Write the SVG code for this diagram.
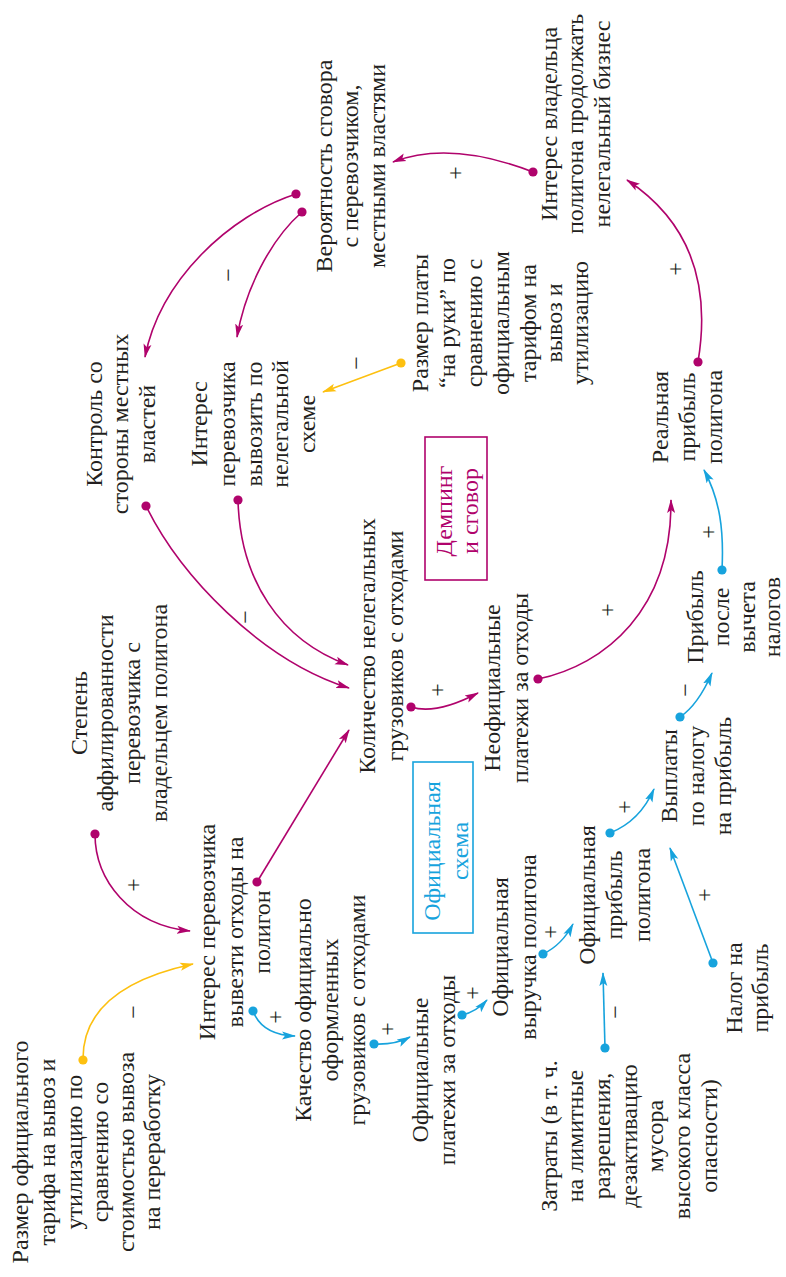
<svg xmlns="http://www.w3.org/2000/svg" width="786" height="1277" viewBox="0 0 786 1277">
  <style>
    .t { font-family: "Liberation Serif", "Times New Roman", serif; font-size: 24px; fill: #231f20; text-anchor: middle; }
    .tm { fill: #b0036c; }
    .tb { fill: #17a3dd; }
    .c { fill: none; stroke-width: 1.6; }
    .cm { stroke: #b0036c; marker-start: url(#dot-m); marker-end: url(#arr-m); }
    .cb { stroke: #17a3dd; marker-start: url(#dot-b); marker-end: url(#arr-b); }
    .cy { stroke: #fdc010; marker-start: url(#dot-y); marker-end: url(#arr-y); }
    .box { fill: none; stroke-width: 1.6; }
  </style>
  <defs>
    <marker id="arr-m" viewBox="0 0 14 10" refX="13" refY="5" markerWidth="14" markerHeight="10" markerUnits="userSpaceOnUse" orient="auto"><path d="M0,1 L14,5 L0,9 L3,5 z" fill="#b0036c"/></marker>
    <marker id="arr-b" viewBox="0 0 14 10" refX="13" refY="5" markerWidth="14" markerHeight="10" markerUnits="userSpaceOnUse" orient="auto"><path d="M0,1 L14,5 L0,9 L3,5 z" fill="#17a3dd"/></marker>
    <marker id="arr-y" viewBox="0 0 14 10" refX="13" refY="5" markerWidth="14" markerHeight="10" markerUnits="userSpaceOnUse" orient="auto"><path d="M0,1 L14,5 L0,9 L3,5 z" fill="#fdc010"/></marker>
    <marker id="dot-m" viewBox="-5 -5 10 10" refX="0" refY="0" markerWidth="10" markerHeight="10" markerUnits="userSpaceOnUse"><circle r="4.6" fill="#b0036c"/></marker>
    <marker id="dot-b" viewBox="-5 -5 10 10" refX="0" refY="0" markerWidth="10" markerHeight="10" markerUnits="userSpaceOnUse"><circle r="4.6" fill="#17a3dd"/></marker>
    <marker id="dot-y" viewBox="-5 -5 10 10" refX="0" refY="0" markerWidth="10" markerHeight="10" markerUnits="userSpaceOnUse"><circle r="4.6" fill="#fdc010"/></marker>
  </defs>

  <rect width="786" height="1277" fill="#ffffff"/>

  <!-- connectors -->
  <g id="connectors" class="c">
    <path class="c cy" d="M83,1060 Q82,988 193,964"/>
    <path class="c cm" d="M95,834 C95,880 130,925 190,931"/>
    <path class="c cm" d="M257,882 L349,730"/>
    <path class="c cm" d="M146,506 C180,575 260,660 349,688"/>
    <path class="c cm" d="M238,500 C240,580 280,640 348,665"/>
    <path class="c cm" d="M411,707 Q436,715 478,693"/>
    <path class="c cm" d="M538,679 C605,665 672,610 671,500"/>
    <path class="c cb" d="M722,570 C724,530 720,500 704,470"/>
    <path class="c cb" d="M680,717 Q698,705 712,673"/>
    <path class="c cb" d="M610,833 Q640,821 654,789"/>
    <path class="c cb" d="M713,963 L670,848"/>
    <path class="c cb" d="M605,1048 L603,973"/>
    <path class="c cb" d="M543,954 Q562,945 573,924"/>
    <path class="c cb" d="M462,1015 Q476,1012 487,1000"/>
    <path class="c cb" d="M374,1044 Q395,1045 410,1037"/>
    <path class="c cb" d="M253,1011 Q262,1035 295,1036"/>
    <path class="c cm" d="M296,194 C230,215 160,280 145,357"/>
    <path class="c cm" d="M302,212 C270,240 245,290 237,337"/>
    <path class="c cy" d="M401,363 L323,392"/>
    <path class="c cm" d="M533,172 Q450,140 393,162"/>
    <path class="c cm" d="M698,362 C710,290 695,225 627,180"/>
  </g>

  <!-- polarity signs -->
  <g id="signs" class="t">
    <text transform="translate(141,1012) rotate(-90)">−</text>
    <text transform="translate(141,885) rotate(-90)">+</text>
    <text transform="translate(253,617) rotate(-90)">−</text>
    <text transform="translate(236,275) rotate(-90)">−</text>
    <text transform="translate(364,363) rotate(-90)">−</text>
    <text transform="translate(463,173) rotate(-90)">+</text>
    <text transform="translate(683,269) rotate(-90)">+</text>
    <text transform="translate(445,690) rotate(-90)">+</text>
    <text transform="translate(615,610) rotate(-90)">+</text>
    <text transform="translate(716,532) rotate(-90)">+</text>
    <text transform="translate(693,690) rotate(-90)">−</text>
    <text transform="translate(632,807) rotate(-90)">+</text>
    <text transform="translate(712,895) rotate(-90)">+</text>
    <text transform="translate(623,1012) rotate(-90)">−</text>
    <text transform="translate(558,932) rotate(-90)">+</text>
    <text transform="translate(480,993) rotate(-90)">+</text>
    <text transform="translate(395,1029) rotate(-90)">+</text>
    <text transform="translate(283,1017) rotate(-90)">+</text>
  </g>

  <!-- nodes: text runs bottom-to-top -->
  <g id="n-tariff" transform="translate(0,1152) rotate(-90)">
    <text class="t"><tspan x="0" y="28">Размер официального</tspan><tspan x="0" y="55">тарифа на вывоз и</tspan><tspan x="0" y="82">утилизацию по</tspan><tspan x="0" y="108">сравнению со</tspan><tspan x="0" y="134">стоимостью вывоза</tspan><tspan x="0" y="160">на переработку</tspan></text>
  </g>
  <g id="n-interest-landfill" transform="translate(0,932) rotate(-90)">
    <text class="t"><tspan x="0" y="215">Интерес перевозчика</tspan><tspan x="0" y="243">вывезти отходы на</tspan><tspan x="0" y="270">полигон</tspan></text>
  </g>
  <g id="n-official-trucks" transform="translate(0,1010) rotate(-90)">
    <text class="t"><tspan x="0" y="311">Качество официально</tspan><tspan x="0" y="338">оформленных</tspan><tspan x="0" y="365">грузовиков с отходами</tspan></text>
  </g>
  <g id="n-official-payments" transform="translate(0,1070) rotate(-90)">
    <text class="t"><tspan x="0" y="428">Официальные</tspan><tspan x="0" y="455">платежи за отходы</tspan></text>
  </g>
  <g id="n-official-revenue" transform="translate(0,947) rotate(-90)">
    <text class="t"><tspan x="0" y="508">Официальная</tspan><tspan x="0" y="536">выручка полигона</tspan></text>
  </g>
  <g id="n-official-profit" transform="translate(0,895) rotate(-90)">
    <text class="t"><tspan x="0" y="595">Официальная</tspan><tspan x="0" y="622">прибыль</tspan><tspan x="0" y="650">полигона</tspan></text>
  </g>
  <g id="n-costs" transform="translate(0,1136) rotate(-90)">
    <text class="t"><tspan x="0" y="557">Затраты (в т. ч.</tspan><tspan x="0" y="583">на лимитные</tspan><tspan x="0" y="610">разрешения,</tspan><tspan x="0" y="637">дезактивацию</tspan><tspan x="0" y="663">мусора</tspan><tspan x="0" y="690">высокого класса</tspan><tspan x="0" y="717">опасности)</tspan></text>
  </g>
  <g id="n-tax" transform="translate(0,988) rotate(-90)">
    <text class="t"><tspan x="0" y="742">Налог на</tspan><tspan x="0" y="768">прибыль</tspan></text>
  </g>
  <g id="n-tax-payments" transform="translate(0,776) rotate(-90)">
    <text class="t"><tspan x="0" y="677">Выплаты</tspan><tspan x="0" y="704">по налогу</tspan><tspan x="0" y="731">на прибыль</tspan></text>
  </g>
  <g id="n-net-profit" transform="translate(0,617) rotate(-90)">
    <text class="t"><tspan x="0" y="703">Прибыль</tspan><tspan x="0" y="729">после</tspan><tspan x="0" y="755">вычета</tspan><tspan x="0" y="780">налогов</tspan></text>
  </g>
  <g id="n-illegal-trucks" transform="translate(0,646) rotate(-90)">
    <text class="t"><tspan x="0" y="375">Количество нелегальных</tspan><tspan x="0" y="403">грузовиков с отходами</tspan></text>
  </g>
  <g id="n-unofficial-payments" transform="translate(0,688) rotate(-90)">
    <text class="t"><tspan x="0" y="500">Неофициальные</tspan><tspan x="0" y="528">платежи за отходы</tspan></text>
  </g>
  <g id="n-affiliation" transform="translate(0,713) rotate(-90)">
    <text class="t"><tspan x="0" y="87">Степень</tspan><tspan x="0" y="113">аффилированности</tspan><tspan x="0" y="140">перевозчика с</tspan><tspan x="0" y="167">владельцем полигона</tspan></text>
  </g>
  <g id="n-control" transform="translate(0,424) rotate(-90)">
    <text class="t"><tspan x="0" y="102">Контроль со</tspan><tspan x="0" y="128">стороны местных</tspan><tspan x="0" y="155">властей</tspan></text>
  </g>
  <g id="n-interest-illegal" transform="translate(0,424) rotate(-90)">
    <text class="t"><tspan x="0" y="207">Интерес</tspan><tspan x="0" y="235">перевозчика</tspan><tspan x="0" y="262">вывозить по</tspan><tspan x="0" y="288">нелегальной</tspan><tspan x="0" y="315">схеме</tspan></text>
  </g>
  <g id="n-collusion" transform="translate(0,166) rotate(-90)">
    <text class="t"><tspan x="0" y="332">Вероятность сговора</tspan><tspan x="0" y="358">с перевозчиком,</tspan><tspan x="0" y="385">местными властями</tspan></text>
  </g>
  <g id="n-cash-fee" transform="translate(0,323) rotate(-90)">
    <text class="t"><tspan x="0" y="428">Размер платы</tspan><tspan x="0" y="455">“на руки” по</tspan><tspan x="0" y="482">сравнению с</tspan><tspan x="0" y="509">официальным</tspan><tspan x="0" y="536">тарифом на</tspan><tspan x="0" y="562">вывоз и</tspan><tspan x="0" y="588">утилизацию</tspan></text>
  </g>
  <g id="n-owner-interest" transform="translate(0,124) rotate(-90)">
    <text class="t"><tspan x="0" y="557">Интерес владельца</tspan><tspan x="0" y="583">полигона продолжать</tspan><tspan x="0" y="610">нелегальный бизнес</tspan></text>
  </g>
  <g id="n-real-profit" transform="translate(0,417) rotate(-90)">
    <text class="t"><tspan x="0" y="668">Реальная</tspan><tspan x="0" y="695">прибыль</tspan><tspan x="0" y="722">полигона</tspan></text>
  </g>

  <!-- loop captions -->
  <g id="box-dumping">
    <rect class="box" x="425" y="437" width="62" height="143" stroke="#b0036c"/>
    <g transform="translate(0,511) rotate(-90)">
      <text class="t tm"><tspan x="0" y="452">Демпинг</tspan><tspan x="0" y="478">и сговор</tspan></text>
    </g>
  </g>
  <g id="box-official">
    <rect class="box" x="413" y="762" width="60" height="171" stroke="#17a3dd"/>
    <g transform="translate(0,851) rotate(-90)">
      <text class="t tb"><tspan x="0" y="440">Официальная</tspan><tspan x="0" y="468">схема</tspan></text>
    </g>
  </g>
</svg>
